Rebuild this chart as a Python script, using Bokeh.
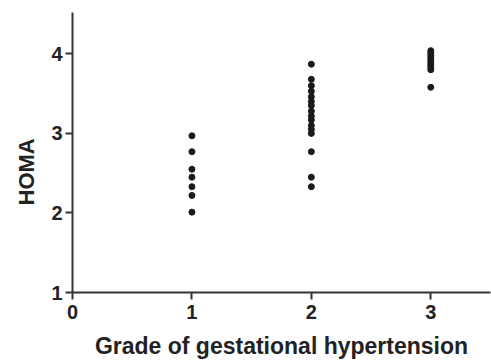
from bokeh.plotting import figure
from bokeh.models import Range1d, FixedTicker, ColumnDataSource, Title
from bokeh.embed import file_html
from bokeh.resources import INLINE

grade1 = [2.97, 2.77, 2.55, 2.45, 2.33, 2.22, 2.01]
grade2 = [3.87, 3.68, 3.60, 3.53, 3.46, 3.40, 3.35, 3.28, 3.22, 3.17, 3.10,
          3.05, 3.00, 2.77, 2.45, 2.33]
grade3 = [4.04, 4.01, 3.98, 3.95, 3.92, 3.89, 3.86, 3.83, 3.80, 3.58]
x_ticks = [0, 1, 2, 3]
y_ticks = [1, 2, 3, 4]
x_title = "Grade of gestational hypertension"
y_title = "HOMA"

xs = [1] * len(grade1) + [2] * len(grade2) + [3] * len(grade3)
ys = grade1 + grade2 + grade3
src = ColumnDataSource(dict(x=xs, y=ys))

p = figure(width=491, height=363, output_backend="svg", toolbar_location=None,
           x_range=Range1d(0, 3.5), y_range=Range1d(1, 4.52),
           min_border_left=72, min_border_right=1, min_border_top=12,
           min_border_bottom=71, frame_width=418, frame_height=280)
p.outline_line_color = None
p.xgrid.visible = False
p.ygrid.visible = False
p.background_fill_color = "white"
p.border_fill_color = "white"

p.scatter("x", "y", source=src, size=6, color="#1a1a1a")

ac = "#333333"
for ax in (p.xaxis[0], p.yaxis[0]):
    ax.axis_line_color = ac
    ax.axis_line_width = 2
    ax.major_tick_line_color = ac
    ax.major_tick_line_width = 2
    ax.major_tick_out = 7
    ax.major_tick_in = 0
    ax.minor_tick_line_color = None
    ax.major_label_text_font = "Liberation Sans"
    ax.major_label_text_font_style = "bold"
    ax.major_label_text_font_size = "20px"
    ax.major_label_text_color = "#222222"

p.xaxis.ticker = FixedTicker(ticks=x_ticks)
p.yaxis.ticker = FixedTicker(ticks=y_ticks)
p.xaxis.major_label_standoff = 5
p.yaxis.major_label_standoff = 3

xt = Title(text=x_title, align="center", standoff=18,
           text_font="Liberation Sans", text_font_style="bold",
           text_font_size="23px", text_color="#222222", text_line_height=1.0)
yt = Title(text=y_title, align="left", offset=87, standoff=20,
           text_font="Liberation Sans", text_font_style="bold",
           text_font_size="22px", text_color="#222222", text_line_height=1.0)
p.add_layout(xt, "below")
p.add_layout(yt, "left")

open("out.html", "w").write(file_html(p, INLINE))
